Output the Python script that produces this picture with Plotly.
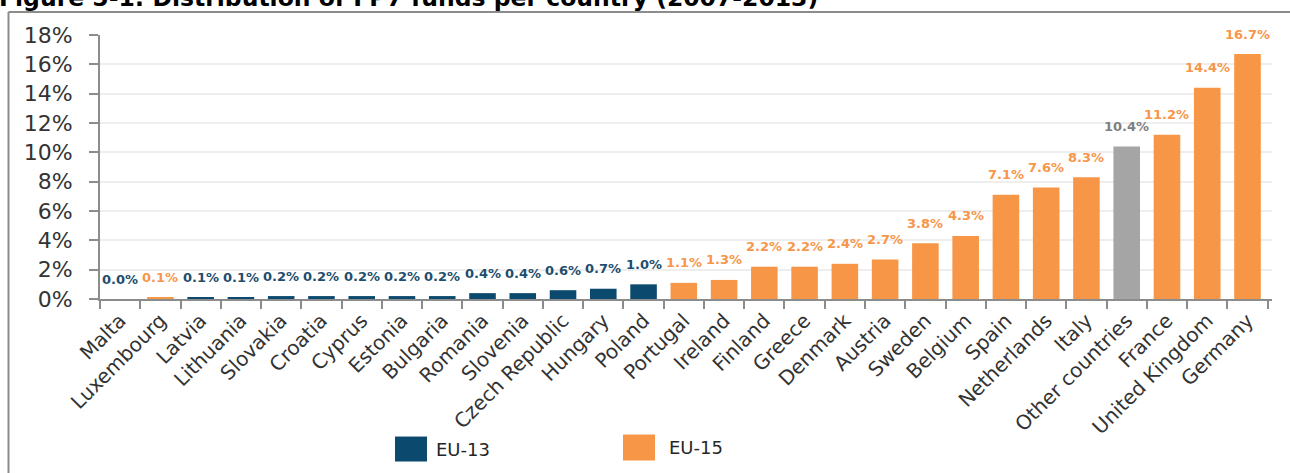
import plotly.graph_objects as go

categories = ["Malta", "Luxembourg", "Latvia", "Lithuania", "Slovakia", "Croatia", "Cyprus",
              "Estonia", "Bulgaria", "Romania", "Slovenia", "Czech Republic", "Hungary", "Poland",
              "Portugal", "Ireland", "Finland", "Greece", "Denmark", "Austria", "Sweden", "Belgium",
              "Spain", "Netherlands", "Italy", "Other countries", "France", "United Kingdom", "Germany"]
values = [0.0, 0.1, 0.1, 0.1, 0.2, 0.2, 0.2, 0.2, 0.2, 0.4, 0.4, 0.6, 0.7, 1.0,
          1.1, 1.3, 2.2, 2.2, 2.4, 2.7, 3.8, 4.3, 7.1, 7.6, 8.3, 10.4, 11.2, 14.4, 16.7]
groups = ["EU-13", "EU-15", "EU-13", "EU-13", "EU-13", "EU-13", "EU-13", "EU-13", "EU-13",
          "EU-13", "EU-13", "EU-13", "EU-13", "EU-13",
          "EU-15", "EU-15", "EU-15", "EU-15", "EU-15", "EU-15", "EU-15", "EU-15",
          "EU-15", "EU-15", "EU-15", "Other", "EU-15", "EU-15", "EU-15"]
y_ticks = [0, 2, 4, 6, 8, 10, 12, 14, 16, 18]
title_text = "Figure 5-1: Distribution of FP7 funds per country (2007-2013)"

bar_colors = {"EU-13": "#0b4a6e", "EU-15": "#f79646", "Other": "#a5a5a5"}
label_colors = {"EU-13": "#1e4d6d", "EU-15": "#f7964a", "Other": "#7f7f7f"}

W, H = 1290, 473
ML, MR, MT, MB = 100, 18, 35, 173.7
pw, ph = W - ML - MR, H - MT - MB


def px_x(p):
    return (p - ML) / pw


def px_y(p):
    return (H - MB - p) / ph


fig = go.Figure()
for g in ["EU-13", "EU-15", "Other"]:
    xs = [c for c, gg in zip(categories, groups) if gg == g]
    ys = [v for v, gg in zip(values, groups) if gg == g]
    fig.add_trace(go.Bar(x=xs, y=ys, name=g, marker=dict(color=bar_colors[g], line=dict(width=0)),
                         showlegend=False, hoverinfo="x+y"))

for c, v, g in zip(categories, values, groups):
    fig.add_annotation(x=c, y=v, text=f"<b>{v:.1f}%</b>", showarrow=False, yanchor="middle", yshift=20,
                       font=dict(family="DejaVu Sans, sans-serif", size=13, color=label_colors[g]))

# frame
fig.add_shape(type="line", xref="paper", yref="paper", x0=px_x(8.5), x1=px_x(1300),
              y0=px_y(12), y1=px_y(12), line=dict(color="#8c8c8c", width=2))
fig.add_shape(type="line", xref="paper", yref="paper", x0=px_x(8.5), x1=px_x(8.5),
              y0=px_y(12), y1=px_y(480), line=dict(color="#8c8c8c", width=2))

# legend
legend_items = [("EU-13", 395, 427, 437, 462, 434), ("EU-15", 623, 655, 435, 461, 667)]
for name, x0, x1, y0, y1, tx in legend_items:
    fig.add_shape(type="rect", xref="paper", yref="paper", x0=px_x(x0), x1=px_x(x1),
                  y0=px_y(y1), y1=px_y(y0), fillcolor=bar_colors[name], line=dict(width=0))
    fig.add_annotation(xref="paper", yref="paper", x=px_x(tx), y=px_y((y0 + y1) / 2), text=name,
                       showarrow=False, xanchor="left", yanchor="middle",
                       font=dict(family="DejaVu Sans, sans-serif", size=18, color="#262626"))

# title (cut at top)
fig.add_annotation(xref="paper", yref="paper", x=px_x(-3), y=px_y(-2), text=f"<b>{title_text}</b>",
                   showarrow=False, xanchor="left", yanchor="middle",
                   font=dict(family="DejaVu Sans, sans-serif", size=23.5, color="#000000"))

fig.update_layout(
    width=W, height=H,
    margin=dict(l=ML, r=MR, t=MT, b=MB, pad=0),
    paper_bgcolor="white", plot_bgcolor="white",
    barmode="overlay", bargap=0.34,
    showlegend=False,
    font=dict(family="DejaVu Sans, sans-serif", color="#404040"),
    xaxis=dict(categoryorder="array", categoryarray=categories, tickangle=-45, automargin=False,
               tickfont=dict(family="DejaVu Sans, sans-serif", size=20, color="#333333"),
               showline=True, linecolor="#8c8c8c",
               linewidth=2, ticks="outside", tickson="boundaries", ticklen=8, tickcolor="#8c8c8c",
               tickwidth=2, showgrid=False, fixedrange=True),
    yaxis=dict(range=[0, 18], tickvals=y_ticks, ticktext=[f"{t}%" for t in y_ticks], automargin=False,
               tickfont=dict(family="DejaVu Sans, sans-serif", size=22, color="#333333"),
               showline=True, linecolor="#8c8c8c",
               linewidth=2, ticks="outside", ticklen=9, tickcolor="#8c8c8c", tickwidth=2,
               ticklabelstandoff=12, showgrid=True, gridcolor="#eeeeee", gridwidth=2,
               zeroline=False, fixedrange=True),
)

fig.write_html("out.html", config={"displayModeBar": False},
               post_script="document.body.style.margin='0';document.body.style.overflow='hidden';")
